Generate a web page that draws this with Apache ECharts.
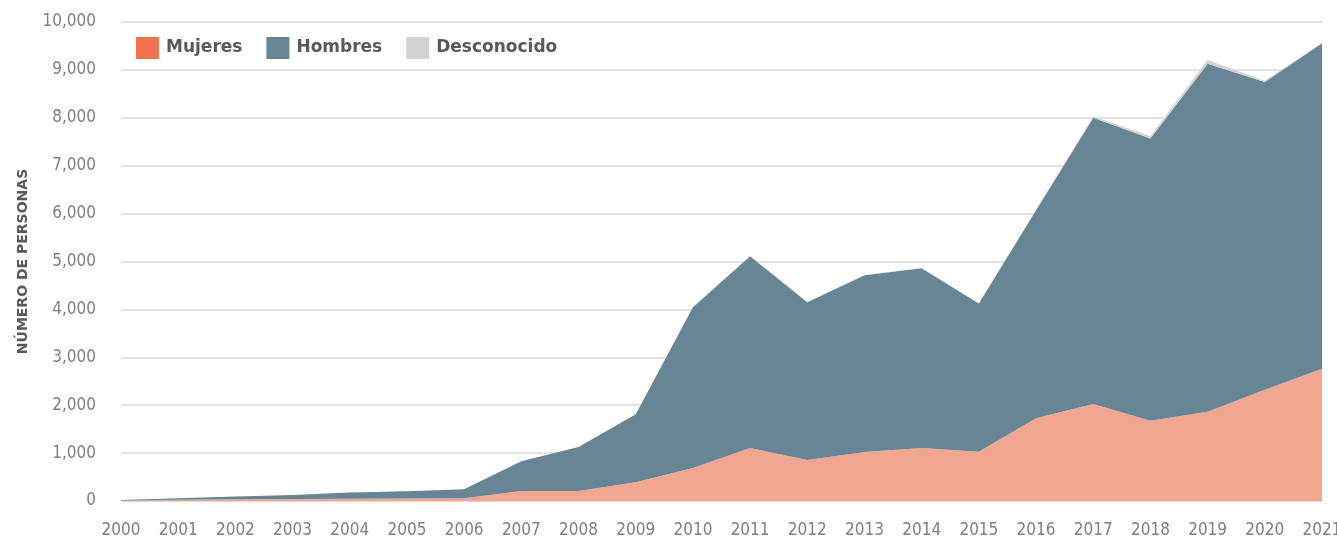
<!DOCTYPE html>
<html>
<head>
<meta charset="utf-8">
<script src="https://cdn.jsdelivr.net/npm/echarts@6/dist/echarts.min.js"></script>
<style>
  html, body { margin: 0; padding: 0; background: #fff; }
  #chart { width: 1337px; height: 538px; }
</style>
</head>
<body>
<div id="chart"></div>
<script>
// años
const years = ['2000', '2001', '2002', '2003', '2004', '2005', '2006', '2007', '2008', '2009', '2010',
    '2011', '2012', '2013', '2014', '2015', '2016', '2017', '2018', '2019', '2020', '2021'];

// personas por sexo
const mujeres = [10, 25, 35, 40, 45, 50, 55, 210, 210, 390, 690,
    1105, 855, 1025, 1105, 1030, 1730, 2025, 1675, 1865, 2320, 2760];
const hombres = [10, 30, 60, 85, 130, 155, 190, 620, 915, 1420, 3355,
    4005, 3295, 3690, 3755, 3095, 4340, 5975, 5895, 7265, 6430, 6795];
const desconocido = [0, 0, 0, 0, 0, 0, 0, 0, 0, 0, 5,
    5, 5, 5, 5, 5, 10, 25, 50, 75, 25, 5];

const yTicks = [0, 1000, 2000, 3000, 4000, 5000, 6000, 7000, 8000, 9000, 10000];

const fontNum = '"DejaVu Sans Condensed", "DejaVu Sans", sans-serif';
const fontBold = '"DejaVu Sans", sans-serif';

function area(name, data, lineColor, fillColor) {
    return {
        name: name,
        type: 'line',
        stack: 'total',
        data: data,
        symbol: 'none',
        itemStyle: {color: lineColor},
        lineStyle: {width: 0},
        areaStyle: {color: fillColor, opacity: 1},
        emphasis: {disabled: true}
    };
}

let myChart = echarts.init(document.getElementById('chart'));
myChart.setOption({
    animation: false,
    grid: {left: 121, right: 15, top: 22, bottom: 37, containLabel: false, outerBoundsMode: 'none'},
    legend: {
        left: 136,
        top: 37,
        padding: 0,
        icon: 'rect',
        itemWidth: 23,
        itemHeight: 22,
        itemGap: 24,
        textStyle: {color: '#595959', fontSize: 17, fontWeight: 'bold', fontFamily: fontBold, padding: [0, 0, 0, 2]},
        data: ['Mujeres', 'Hombres', 'Desconocido']
    },
    xAxis: {
        type: 'category',
        boundaryGap: false,
        data: years,
        axisTick: {show: false},
        axisLine: {lineStyle: {color: '#d9d9d9', width: 1.5}},
        axisLabel: {color: '#7f7f7f', fontSize: 17, margin: 21, fontFamily: fontNum, hideOverlap: false}
    },
    yAxis: {
        type: 'value',
        min: yTicks[0],
        max: yTicks[yTicks.length - 1],
        interval: 1000,
        name: 'NÚMERO DE PERSONAS',
        nameLocation: 'middle',
        nameGap: 91,
        nameTextStyle: {color: '#595959', fontSize: 14, fontWeight: 'bold', fontFamily: fontBold},
        axisLabel: {
            color: '#7f7f7f',
            fontSize: 17,
            margin: 25,
            fontFamily: fontNum,
            formatter: v => v.toLocaleString('en-US')
        },
        splitLine: {lineStyle: {color: '#d9d9d9', width: 1.5}}
    },
    series: [
        area('Mujeres', mujeres, '#F37150', '#F0A68F'),
        area('Hombres', hombres, '#678594', '#678594'),
        area('Desconocido', desconocido, '#D3D3D3', '#D3D3D3')
    ]
});
</script>
</body>
</html>
